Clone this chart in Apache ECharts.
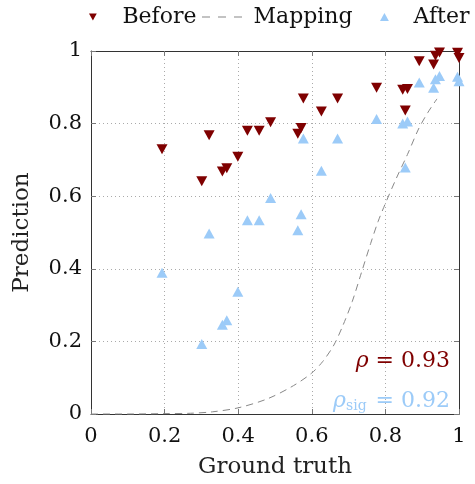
<!DOCTYPE html>
<html>
<head>
<meta charset="utf-8">
<script src="https://cdn.jsdelivr.net/npm/echarts@6/dist/echarts.min.js"></script>
<style>
html,body{margin:0;padding:0;background:#fff;}
#chart{width:475px;height:484px;}
</style>
</head>
<body>
<div id="chart"></div>
<script>
// Ground truth values (shared by Before / After)
const groundTruth = [0.193, 0.301, 0.321, 0.357, 0.369, 0.399, 0.425, 0.457, 0.488, 0.562, 0.571, 0.577, 0.626, 0.670, 0.776, 0.847, 0.854, 0.860, 0.892, 0.931, 0.936, 0.947, 0.996, 1.0];
const beforeVals  = [0.729, 0.641, 0.768, 0.668, 0.677, 0.709, 0.780, 0.780, 0.804, 0.772, 0.788, 0.869, 0.833, 0.869, 0.899, 0.893, 0.836, 0.895, 0.972, 0.963, 0.987, 0.996, 0.995, 0.981];
const afterVals   = [0.389, 0.193, 0.497, 0.246, 0.258, 0.337, 0.534, 0.534, 0.595, 0.506, 0.550, 0.759, 0.670, 0.759, 0.813, 0.800, 0.679, 0.806, 0.913, 0.899, 0.922, 0.931, 0.929, 0.917];
// Mapping curve
const mappingX = [0, 0.1, 0.2, 0.27, 0.33, 0.4, 0.48, 0.55, 0.6, 0.63, 0.66, 0.685, 0.71, 0.735, 0.76, 0.78, 0.8, 0.83, 0.86, 0.89, 0.915, 0.94];
const mappingY = [0, 0, 0.001, 0.002, 0.006, 0.017, 0.042, 0.078, 0.113, 0.145, 0.19, 0.245, 0.31, 0.39, 0.47, 0.53, 0.58, 0.65, 0.715, 0.785, 0.83, 0.868];
const tickLabels = ['0', '0.2', '0.4', '0.6', '0.8', '1'];
const rhoText = '0.93';
const rhoSigText = '0.92';

const RED = '#7f0000';
const BLUE = '#9ccbf8';
const GREY = '#888';
const FONT = 'DejaVu Serif';
const DOWN = 'path://M0,0L10,0L5,9Z';
const UP = 'path://M5,0L10,9L0,9Z';
const DASHES = 'path://M0,0h8v1h-8zM16,0h8v1h-8zM32,0h8v1h-8z';

const beforeData = groundTruth.map((x, i) => [x, beforeVals[i]]);
const afterData = groundTruth.map((x, i) => [x, afterVals[i]]);
const mapData = mappingX.map((x, i) => [x, mappingY[i]]);

const fmt = v => tickLabels[Math.round(v / 0.2)] || '';

const baseAxis = {
  min: 0, max: 1, interval: 0.2,
  axisLine: {show: true, onZero: false, lineStyle: {color: '#333', width: 1}},
  axisTick: {show: true, inside: true, length: 5, lineStyle: {color: '#777'}},
};

const chart = echarts.init(document.getElementById('chart'), null, {renderer: 'canvas'});
chart.setOption({
  animation: false,
  backgroundColor: '#fff',
  grid: {left: 91, right: 16, top: 51, bottom: 65, containLabel: false},
  xAxis: [
    Object.assign({}, baseAxis, {
      type: 'value', position: 'bottom',
      name: 'Ground truth', nameLocation: 'middle', nameGap: 42,
      nameTextStyle: {fontFamily: FONT, fontSize: 23, color: '#222'},
      axisLabel: {formatter: fmt, fontFamily: FONT, fontSize: 21, color: '#111', margin: 12},
      splitLine: {show: true, lineStyle: {type: [1, 3], color: '#aaa', width: 1}}
    }),
    Object.assign({}, baseAxis, {
      type: 'value', position: 'top',
      axisLabel: {show: false}, splitLine: {show: false}
    })
  ],
  yAxis: [
    Object.assign({}, baseAxis, {
      type: 'value', position: 'left',
      name: 'Prediction', nameLocation: 'middle', nameGap: 57,
      nameTextStyle: {fontFamily: FONT, fontSize: 23, color: '#222'},
      axisLabel: {formatter: fmt, fontFamily: FONT, fontSize: 21, color: '#111', margin: 9},
      splitLine: {show: true, lineStyle: {type: [1, 3], color: '#aaa', width: 1}}
    }),
    Object.assign({}, baseAxis, {
      type: 'value', position: 'right',
      axisLabel: {show: false}, splitLine: {show: false}
    })
  ],
  legend: [
    {left: 89, top: 6, padding: 0, itemWidth: 9, itemHeight: 7,
     data: [{name: 'Before', icon: DOWN}],
     textStyle: {fontFamily: FONT, fontSize: 22, color: '#111', padding: [0, 0, 8, 20]}},
    {left: 202, top: 6, padding: 0, itemWidth: 41, itemHeight: 1,
     data: [{name: 'Mapping', icon: DASHES, itemStyle: {color: GREY}}],
     textStyle: {fontFamily: FONT, fontSize: 22, color: '#111', padding: [0, 0, 0, 6]}},
    {left: 380, top: 6, padding: 0, itemWidth: 10, itemHeight: 8,
     data: [{name: 'After', icon: UP}],
     textStyle: {fontFamily: FONT, fontSize: 22, color: '#111', padding: [0, 0, 8, 19]}}
  ],
  series: [
    {name: 'Mapping', type: 'line', data: mapData, smooth: 0.3, showSymbol: false, symbol: 'none',
     clip: false, z: 1,
     lineStyle: {color: GREY, width: 1, type: [7, 5]}, itemStyle: {color: GREY}},
    {name: 'Before', type: 'scatter', data: beforeData, symbol: DOWN, symbolSize: [11, 10],
     clip: false, z: 3, itemStyle: {color: RED, opacity: 1}},
    {name: 'After', type: 'scatter', data: afterData, symbol: UP, symbolSize: [11, 10],
     clip: false, z: 2, itemStyle: {color: BLUE, opacity: 1}}
  ],
  graphic: [
    {type: 'text', right: 25, top: 350, z: 10,
     style: {text: '{r|ρ} = ' + rhoText, fill: RED, font: '22px "DejaVu Serif"',
       rich: {r: {fontFamily: FONT, fontSize: 22, fontStyle: 'italic', fill: RED}}}},
    {type: 'text', right: 25, top: 390, z: 10,
     style: {text: '{r|ρ}{s|sig} = ' + rhoSigText, fill: BLUE, font: '22px "DejaVu Serif"',
       rich: {r: {fontFamily: FONT, fontSize: 22, fontStyle: 'italic', fill: BLUE},
              s: {fontFamily: FONT, fontSize: 14, fill: BLUE, padding: [10, 2, 0, 0]}}}}
  ]
});
</script>
</body>
</html>
